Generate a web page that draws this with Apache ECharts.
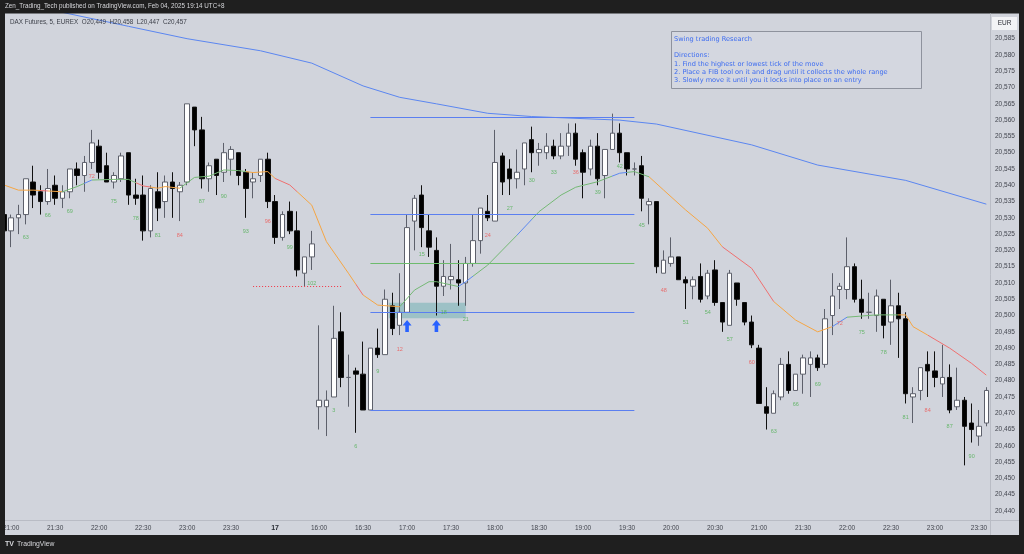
<!DOCTYPE html>
<html>
<head>
<meta charset="utf-8">
<script src="https://cdn.jsdelivr.net/npm/echarts@6/dist/echarts.min.js"></script>
<style>
html, body { margin: 0; padding: 0; background: #1f1f1f; }
#chart { width: 1024px; height: 554px; }
</style>
</head>
<body>
<div id="chart"></div>
<script>
// 5 minute bars: day 16 20:55-23:55, then day 17 15:30-23:35
function hhmm(m) {
    return String(Math.floor(m / 60)).padStart(2, '0') + ':' + String(m % 60).padStart(2, '0');
}
const times = [];
for (let m = 20 * 60 + 55; m <= 23 * 60 + 55; m += 5) times.push('16 ' + hhmm(m));
for (let m = 15 * 60 + 30; m <= 23 * 60 + 35; m += 5) times.push('17 ' + hhmm(m));

// [open, high, low, close]
const bars = [
    [20531, 20532, 20524, 20526], [20526, 20531, 20521, 20530], [20530, 20534, 20525, 20531], [20531, 20542, 20528, 20542],
    [20541, 20546, 20533, 20537], [20538, 20540, 20531, 20535], [20535, 20545, 20534, 20539], [20540, 20543, 20534, 20536],
    [20536, 20540, 20533, 20538], [20538, 20545, 20536, 20545], [20545, 20547, 20540, 20543], [20543, 20549, 20538, 20547],
    [20547, 20557, 20545, 20553], [20552, 20554, 20542, 20544], [20546, 20550, 20541, 20541], [20541, 20544, 20539, 20543],
    [20542, 20550, 20541, 20549], [20550, 20550, 20534, 20537], [20537, 20542, 20534, 20536], [20537, 20543, 20523, 20526],
    [20526, 20540, 20524, 20539], [20538, 20544, 20529, 20533], [20535, 20543, 20530, 20541], [20541, 20544, 20530, 20539],
    [20538, 20541, 20529, 20540], [20541, 20565, 20540, 20565], [20564, 20564, 20552, 20557], [20557, 20561, 20539, 20542],
    [20542, 20547, 20538, 20546], [20548, 20548, 20537, 20543], [20544, 20553, 20541, 20550], [20548, 20552, 20543, 20551],
    [20550, 20550, 20540, 20543], [20544, 20545, 20530, 20539], [20541, 20544, 20536, 20542], [20543, 20548, 20541, 20548],
    [20548, 20550, 20533, 20535], [20535, 20537, 20522, 20524], [20524, 20532, 20523, 20531], [20532, 20535, 20525, 20526],
    [20526, 20532, 20512, 20514], [20513, 20518, 20509, 20518], [20518, 20526, 20514, 20522], [20472, 20497, 20465, 20474],
    [20472, 20477, 20463, 20474], [20475, 20503, 20475, 20493], [20495, 20501, 20478, 20481], [20481, 20488, 20472, 20481],
    [20483, 20484, 20464, 20482], [20482, 20492, 20471, 20471], [20471, 20490, 20471, 20490], [20490, 20496, 20487, 20488],
    [20488, 20508, 20488, 20505], [20503, 20507, 20494, 20496], [20497, 20513, 20494, 20501], [20501, 20531, 20501, 20527],
    [20529, 20537, 20520, 20536], [20537, 20540, 20521, 20527], [20526, 20531, 20518, 20521], [20520, 20524, 20500, 20509],
    [20509, 20517, 20506, 20512], [20511, 20522, 20508, 20512], [20511, 20517, 20503, 20510], [20510, 20518, 20503, 20516],
    [20516, 20531, 20515, 20523], [20523, 20533, 20519, 20533], [20532, 20537, 20529, 20530], [20529, 20557, 20529, 20547],
    [20549, 20550, 20537, 20541], [20545, 20548, 20537, 20542], [20542, 20551, 20539, 20544], [20545, 20553, 20540, 20553],
    [20554, 20558, 20544, 20550], [20550, 20553, 20546, 20551], [20550, 20556, 20548, 20552], [20552, 20554, 20548, 20549],
    [20549, 20556, 20548, 20552], [20552, 20559, 20549, 20556], [20556, 20559, 20546, 20548], [20550, 20551, 20536, 20544],
    [20545, 20554, 20543, 20552], [20552, 20556, 20540, 20542], [20543, 20551, 20536, 20551], [20551, 20562, 20551, 20556],
    [20556, 20559, 20547, 20550], [20550, 20550, 20543, 20545], [20545, 20547, 20543, 20545], [20546, 20549, 20532, 20536],
    [20534, 20536, 20528, 20535], [20535, 20535, 20513, 20515], [20513, 20520, 20513, 20517], [20516, 20524, 20515, 20518],
    [20518, 20518, 20511, 20511], [20511, 20512, 20502, 20510], [20509, 20512, 20505, 20511], [20512, 20516, 20504, 20505],
    [20506, 20514, 20505, 20513], [20514, 20517, 20503, 20504], [20504, 20504, 20495, 20498], [20497, 20514, 20497, 20513],
    [20510, 20510, 20503, 20505], [20504, 20504, 20497, 20498], [20498, 20500, 20490, 20491], [20490, 20491, 20473, 20473],
    [20472, 20478, 20465, 20470], [20470, 20477, 20470, 20476], [20475, 20487, 20474, 20485], [20485, 20489, 20476, 20477],
    [20477, 20482, 20477, 20482], [20482, 20488, 20476, 20487], [20485, 20489, 20475, 20487], [20487, 20488, 20483, 20484],
    [20485, 20502, 20484, 20499], [20500, 20513, 20494, 20506], [20508, 20510, 20502, 20509], [20508, 20524, 20505, 20515],
    [20515, 20516, 20504, 20505], [20505, 20511, 20499, 20501], [20501, 20507, 20499, 20501], [20500, 20508, 20495, 20506],
    [20505, 20505, 20493, 20497], [20498, 20511, 20491, 20503], [20503, 20507, 20487, 20499], [20499, 20501, 20473, 20476],
    [20475, 20478, 20467, 20476], [20477, 20484, 20474, 20484], [20485, 20489, 20475, 20483], [20483, 20489, 20478, 20481],
    [20479, 20491, 20475, 20481], [20481, 20485, 20470, 20471], [20472, 20484, 20471, 20474], [20474, 20475, 20454, 20466],
    [20467, 20473, 20461, 20465], [20463, 20471, 20460, 20466], [20467, 20478, 20466, 20477]
];

// short moving average, [bar index, price]
const fastMa = [
    [0, 20540.1], [2, 20538.5], [4, 20538.5], [8, 20538.0], [10, 20539.6], [12, 20541.6], [15, 20541.8], [17, 20541.8],
    [19, 20539.8], [21, 20539.1], [22, 20539.6], [24, 20539.1], [26, 20542.4], [28, 20542.8], [30, 20544.7], [32, 20544.5],
    [34, 20543.9], [36, 20544.2], [37, 20542.1], [39, 20540.1], [42, 20533.9], [44, 20522.7], [47, 20513.0], [49, 20506.3],
    [51, 20503.2], [54, 20502.7], [56, 20507.8], [58, 20510.4], [59, 20510.4], [62, 20508.9], [63, 20510.4], [66, 20515.5],
    [68, 20520.1], [70, 20524.7], [73, 20531.9], [76, 20537.0], [78, 20539.4], [81, 20541.1], [84, 20543.7], [86, 20544.2],
    [88, 20542.6], [90, 20538.5], [93, 20532.4], [96, 20526.8], [98, 20521.1], [102, 20514.5], [105, 20504.3], [108, 20498.6],
    [111, 20495.0], [113, 20496.6], [115, 20499.5], [119, 20500.2], [123, 20500.2], [124, 20496.6], [126, 20494.0],
    [129, 20490.0], [132, 20485.3], [134, 20481.7]
];
// colour of the short average by bar range: [from, to, colour]
const fastMaColors = [
    [0, 4.6, '#f5a543'], [4.6, 6.3, '#ef6f6f'], [6.3, 8.1, '#f5a543'], [8.1, 10.7, '#74b874'], [10.7, 11.8, '#5b88f0'],
    [11.8, 17.7, '#74b874'], [17.7, 19.6, '#ef6f6f'], [19.6, 24.3, '#f5a543'], [24.3, 30.5, '#74b874'], [30.5, 31.3, '#5b88f0'],
    [31.3, 33.2, '#74b874'], [33.2, 36.5, '#f5a543'], [36.5, 40.4, '#ef6f6f'], [40.4, 48.4, '#f5a543'], [48.4, 49.3, '#ef6f6f'],
    [49.3, 54, '#f5a543'], [54, 61.6, '#74b874'], [61.6, 64, '#5b88f0'], [64, 69.5, '#74b874'], [69.5, 72.2, '#5b88f0'],
    [72.2, 82.7, '#74b874'], [82.7, 84.5, '#5b88f0'], [84.5, 88.2, '#74b874'], [88.2, 97.7, '#f5a543'], [97.7, 104.5, '#ef6f6f'],
    [104.5, 112.7, '#f5a543'], [112.7, 115, '#5b88f0'], [115, 122.3, '#74b874'], [122.3, 125.7, '#f5a543'],
    [125.7, 133.9, '#ef6f6f'], [133.9, 140, '#f5a543']
];

// long moving average
const slowMa = [
    [0, 20597], [9, 20592.6], [17, 20588.8], [25, 20585.0], [35, 20581.3], [42, 20577.5], [49, 20570.5], [54, 20567.0],
    [59, 20565.0], [66, 20562.1], [72, 20561.1], [84, 20560.0], [89, 20558.8], [102, 20552.4], [111, 20546.2],
    [123, 20541.5], [134, 20534.2]
];

// fib levels drawn from bar 50 to bar 86
const fibStart = 50, fibEnd = 86;
const fibLevels = [20561, 20531, 20516, 20501, 20471];
const fibColors = ['#5b7ff0', '#5b7ff0', '#6dbb6d', '#5b7ff0', '#5b7ff0'];

// red dotted level
const dotLine = { from: 34, to: 46, price: 20509 };
// entry zone box [from bar, to bar, top, bottom] and arrows
const zone = [53, 63, 20503.9, 20499.2];
const arrowBars = [55, 59];
const arrowPrice = 20496.8;

// bar count labels
const countBars = [3, 6, 9, 12, 15, 18, 21, 24, 27, 30, 33, 36, 39, 42,
    45, 48, 51, 54, 57, 60, 63, 66, 69, 72, 75, 78, 81, 84, 87, 90, 93, 96, 99, 102, 105, 108, 111, 114, 117, 120, 123, 126, 129, 132];
const countTexts = ['63', '66', '69', '72', '75', '78', '81', '84', '87', '90', '93', '96', '99', '102',
    '3', '6', '9', '12', '15', '18', '21', '24', '27', '30', '33', '36', '39', '42', '45', '48', '51', '54', '57', '60',
    '63', '66', '69', '72', '75', '78', '81', '84', '87', '90'];
const countPrices = [20523.9, 20530.6, 20531.8, 20542.75, 20534.9, 20529.7, 20524.7, 20524.7, 20534.9, 20536.7, 20525.7, 20528.8, 20520.8, 20509.9,
    20470.8, 20459.7, 20482.8, 20489.7, 20518.8, 20500.9, 20498.8, 20524.7, 20532.8, 20541.6, 20543.9, 20543.9, 20537.9, 20545.7,
    20527.8, 20507.6, 20497.8, 20500.9, 20492.8, 20485.65, 20464.55, 20472.75, 20478.7, 20497.7, 20494.7, 20488.8, 20468.6,
    20470.8, 20465.8, 20456.7];

const yTicks = { min: 20435, max: 20595, step: 5, firstShown: 20440, lastShown: 20585 };

const FONT = 'Liberation Sans, Arial, sans-serif';
const chart = echarts.init(document.getElementById('chart'));

const candleData = bars.map(b => [b[0], b[3], b[2], b[1]]);
const countData = countBars.map((j, i) => ({
    value: [j, countPrices[i]],
    label: { formatter: countTexts[i], color: Number(countTexts[i]) % 12 === 0 ? '#ef5350' : '#4caf50' }
}));

const fibLines = fibLevels.map((p, i) => [
    { coord: [fibStart, p], lineStyle: { color: fibColors[i], width: 1, type: 'solid' } },
    { coord: [fibEnd, p] }
]);
fibLines.push([
    { coord: [dotLine.from, dotLine.price], lineStyle: { color: '#f23645', width: 1, type: [1, 2] } },
    { coord: [dotLine.to, dotLine.price] }
]);

const arrowPath = 'path://M5,0 L10,5.5 L7,5.5 L7,12 L3,12 L3,5.5 L0,5.5 Z';

const option = {
    animation: false,
    backgroundColor: '#d1d4dc',
    grid: { left: 0, top: 6.13, width: 990, height: 521.12 },
    xAxis: {
        type: 'category',
        data: times,
        boundaryGap: true,
        axisLine: { show: false },
        axisTick: { show: false },
        splitLine: { show: false },
        axisLabel: {
            interval: (idx, v) => v.endsWith(':00') || v.endsWith(':30'),
            formatter: v => (v === '17 15:30' ? '{b|17}' : v.slice(3)),
            margin: 0.5,
            verticalAlign: 'middle',
            fontSize: 6.5,
            fontFamily: FONT,
            color: '#42454e',
            rich: { b: { fontWeight: 'bold', fontSize: 7, fontFamily: FONT, color: '#2a2d35' } }
        }
    },
    yAxis: {
        type: 'value',
        position: 'right',
        min: yTicks.min,
        max: yTicks.max,
        interval: yTicks.step,
        scale: true,
        axisLine: { show: false },
        axisTick: { show: false },
        splitLine: { show: false },
        axisLabel: {
            margin: 5,
            fontSize: 6.5,
            fontFamily: FONT,
            color: '#42454e',
            formatter: v => (v >= yTicks.firstShown && v <= yTicks.lastShown)
                ? String(v).replace(/^(\d\d)(\d{3})$/, '$1,$2') : ''
        }
    },
    visualMap: {
        type: 'piecewise',
        show: false,
        dimension: 0,
        seriesIndex: 1,
        pieces: fastMaColors.map(c => ({ gte: c[0], lt: c[1], color: c[2] }))
    },
    series: [
        {
            type: 'candlestick',
            data: candleData,
            barWidth: 5,
            z: 3,
            itemStyle: {
                color: '#ffffff',
                color0: '#000000',
                borderColor: '#5d606b',
                borderColor0: '#111111',
                borderWidth: 1
            },
            markLine: {
                silent: true,
                symbol: 'none',
                label: { show: false },
                data: fibLines
            },
            markPoint: {
                silent: true,
                symbol: arrowPath,
                symbolSize: [9, 12],
                label: { show: false },
                itemStyle: { color: '#2962ff' },
                z: 6,
                data: arrowBars.map(j => ({ coord: [j, arrowPrice] }))
            }
        },
        {
            type: 'line',
            data: fastMa,
            symbol: 'none',
            z: 4,
            lineStyle: { width: 1 }
        },
        {
            type: 'line',
            data: slowMa,
            symbol: 'none',
            z: 4,
            lineStyle: { width: 1, color: '#5b86f0' }
        },
        {
            type: 'scatter',
            data: countData,
            symbolSize: 0.1,
            z: 5,
            itemStyle: { color: 'transparent' },
            label: { show: true, position: 'inside', fontSize: 5.5, fontFamily: FONT }
        },
        {
            // entry zone, from the left edge of the first bar to the middle of the last one
            type: 'custom',
            z: 1,
            silent: true,
            encode: { x: [0, 1], y: [2, 3] },
            data: [zone],
            renderItem: (params, api) => {
                const a = api.coord([api.value(0), api.value(2)]);
                const b = api.coord([api.value(1), api.value(3)]);
                const bw = api.size([1, 0])[0];
                return {
                    type: 'rect',
                    shape: { x: a[0] - bw / 2, y: a[1], width: b[0] - a[0] + bw / 2, height: b[1] - a[1] },
                    style: { fill: 'rgba(38,150,150,0.3)' }
                };
            }
        }
    ],
    graphic: { elements: [
        { type: 'rect', z: 100, shape: { x: 0, y: 0, width: 1024, height: 13.5 }, style: { fill: '#1f1f1f' } },
        { type: 'rect', z: 100, shape: { x: 0, y: 0, width: 5, height: 554 }, style: { fill: '#1f1f1f' } },
        { type: 'rect', z: 100, shape: { x: 1019, y: 0, width: 5, height: 554 }, style: { fill: '#1f1f1f' } },
        { type: 'rect', z: 100, shape: { x: 0, y: 535, width: 1024, height: 19 }, style: { fill: '#1f1f1f' } },
        { type: 'line', z: 100, shape: { x1: 990.5, y1: 13.5, x2: 990.5, y2: 535 }, style: { stroke: '#b9bcc5', lineWidth: 1 } },
        { type: 'line', z: 100, shape: { x1: 5, y1: 520.5, x2: 1019, y2: 520.5 }, style: { stroke: '#b9bcc5', lineWidth: 1 } },
        { type: 'rect', z: 100, shape: { x: 992, y: 17, width: 25, height: 13 }, style: { fill: '#f2f3f6' } },
        { type: 'text', z: 101, x: 1004.5, y: 23.5, style: { text: 'EUR', fill: '#2a2d35', fontSize: 6.5, fontFamily: FONT, align: 'center', verticalAlign: 'middle' } },
        { type: 'text', z: 101, x: 5, y: 6.5, style: { text: 'Zen_Trading_Tech published on TradingView.com, Feb 04, 2025 19:14 UTC+8', fill: '#d6d7db', fontSize: 6.3, fontFamily: FONT, verticalAlign: 'middle' } },
        { type: 'text', z: 101, x: 10, y: 22.3, style: { text: 'DAX Futures, 5, EUREX  O20,449  H20,458  L20,447  C20,457', fill: '#3b3e47', fontSize: 6.3, fontFamily: FONT, verticalAlign: 'middle' } },
        { type: 'text', z: 101, x: 5, y: 544.5, style: { text: 'TV', fill: '#d6d7db', fontSize: 7, fontWeight: 'bold', fontFamily: FONT, verticalAlign: 'middle' } },
        { type: 'text', z: 101, x: 17, y: 544.5, style: { text: 'TradingView', fill: '#d6d7db', fontSize: 6.8, fontFamily: FONT, verticalAlign: 'middle' } },
        { type: 'rect', z: 100, shape: { x: 671.5, y: 31.5, width: 250, height: 57 }, style: { fill: 'rgba(214,217,226,0.6)', stroke: '#8e929d', lineWidth: 1 } },
        { type: 'text', z: 101, x: 674, y: 35, style: {
            text: 'Swing trading Research\n\nDirections:\n1. Find the highest or lowest tick of the move\n2. Place a FIB tool on it and drag until it collects the whole range\n3. Slowly move it until you it locks into place on an entry',
            fill: '#3d6cf0', fontSize: 6.6, fontFamily: 'DejaVu Sans, Verdana, sans-serif', lineHeight: 8.3 } }
    ] }
};

chart.setOption(option);
</script>
</body>
</html>
